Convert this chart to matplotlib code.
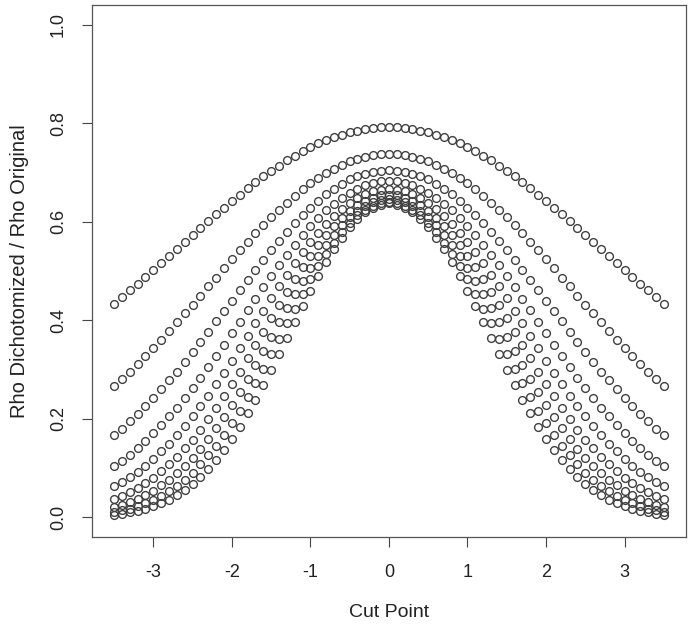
import matplotlib
matplotlib.use("Agg")
import matplotlib.pyplot as plt

plt.rcParams['font.family'] = ['Liberation Sans', 'DejaVu Sans']

# cut points (x) shared by every curve
cut_points = [-3.5, -3.4, -3.3, -3.2, -3.1, -3.0, -2.9, -2.8, -2.7, -2.6,
              -2.5, -2.4, -2.3, -2.2, -2.1, -2.0, -1.9, -1.8, -1.7, -1.6,
              -1.5, -1.4, -1.3, -1.2, -1.1, -1.0, -0.9, -0.8, -0.7, -0.6,
              -0.5, -0.4, -0.3, -0.2, -0.1, 0.0, 0.1, 0.2, 0.3, 0.4,
              0.5, 0.6, 0.7, 0.8, 0.9, 1.0, 1.1, 1.2, 1.3, 1.4,
              1.5, 1.6, 1.7, 1.8, 1.9, 2.0, 2.1, 2.2, 2.3, 2.4,
              2.5, 2.6, 2.7, 2.8, 2.9, 3.0, 3.1, 3.2, 3.3, 3.4, 3.5]

# ratio, one list per original rho (0.1 ... 0.9)
ratio_rho01 = [0.006, 0.008, 0.011, 0.014, 0.018, 0.023, 0.029, 0.036, 0.045, 0.056,
               0.068, 0.082, 0.099, 0.117, 0.137, 0.159, 0.184, 0.211, 0.239, 0.269,
               0.299, 0.331, 0.364, 0.397, 0.429, 0.460, 0.490, 0.518, 0.544, 0.568,
               0.589, 0.606, 0.619, 0.629, 0.635, 0.638, 0.635, 0.629, 0.619, 0.606,
               0.589, 0.568, 0.544, 0.518, 0.490, 0.460, 0.429, 0.397, 0.364, 0.331,
               0.299, 0.269, 0.239, 0.211, 0.184, 0.159, 0.137, 0.117, 0.099, 0.082,
               0.068, 0.056, 0.045, 0.036, 0.029, 0.023, 0.018, 0.014, 0.011, 0.008, 0.006]
ratio_rho02 = [0.012, 0.015, 0.018, 0.023, 0.029, 0.036, 0.044, 0.053, 0.064, 0.077,
               0.091, 0.108, 0.126, 0.146, 0.168, 0.191, 0.217, 0.245, 0.273, 0.302,
               0.332, 0.363, 0.394, 0.424, 0.454, 0.483, 0.510, 0.535, 0.558, 0.579,
               0.598, 0.613, 0.625, 0.633, 0.639, 0.641, 0.639, 0.633, 0.625, 0.613,
               0.598, 0.579, 0.558, 0.535, 0.510, 0.483, 0.454, 0.424, 0.394, 0.363,
               0.332, 0.302, 0.273, 0.245, 0.217, 0.191, 0.168, 0.146, 0.126, 0.108,
               0.091, 0.077, 0.064, 0.053, 0.044, 0.036, 0.029, 0.023, 0.018, 0.015, 0.012]
ratio_rho03 = [0.021, 0.025, 0.031, 0.038, 0.045, 0.054, 0.065, 0.077, 0.090, 0.105,
               0.121, 0.139, 0.159, 0.181, 0.204, 0.228, 0.255, 0.282, 0.310, 0.338,
               0.367, 0.396, 0.425, 0.453, 0.480, 0.506, 0.530, 0.553, 0.574, 0.593,
               0.609, 0.622, 0.632, 0.640, 0.645, 0.647, 0.645, 0.640, 0.632, 0.622,
               0.609, 0.593, 0.574, 0.553, 0.530, 0.506, 0.480, 0.453, 0.425, 0.396,
               0.367, 0.338, 0.310, 0.282, 0.255, 0.228, 0.204, 0.181, 0.159, 0.139,
               0.121, 0.105, 0.090, 0.077, 0.065, 0.054, 0.045, 0.038, 0.031, 0.025, 0.021]
ratio_rho04 = [0.037, 0.044, 0.051, 0.060, 0.070, 0.081, 0.094, 0.108, 0.123, 0.140,
               0.158, 0.178, 0.200, 0.222, 0.246, 0.270, 0.296, 0.323, 0.350, 0.377,
               0.404, 0.431, 0.457, 0.483, 0.508, 0.531, 0.553, 0.573, 0.592, 0.608,
               0.622, 0.634, 0.643, 0.649, 0.654, 0.655, 0.654, 0.649, 0.643, 0.634,
               0.622, 0.608, 0.592, 0.573, 0.553, 0.531, 0.508, 0.483, 0.457, 0.431,
               0.404, 0.377, 0.350, 0.323, 0.296, 0.270, 0.246, 0.222, 0.200, 0.178,
               0.158, 0.140, 0.123, 0.108, 0.094, 0.081, 0.070, 0.060, 0.051, 0.044, 0.037]
ratio_rho05 = [0.063, 0.072, 0.082, 0.093, 0.105, 0.119, 0.134, 0.150, 0.167, 0.185,
               0.205, 0.226, 0.247, 0.270, 0.294, 0.318, 0.343, 0.369, 0.394, 0.419,
               0.445, 0.469, 0.493, 0.516, 0.538, 0.559, 0.578, 0.596, 0.612, 0.626,
               0.639, 0.648, 0.656, 0.662, 0.665, 0.667, 0.665, 0.662, 0.656, 0.648,
               0.639, 0.626, 0.612, 0.596, 0.578, 0.559, 0.538, 0.516, 0.493, 0.469,
               0.445, 0.419, 0.394, 0.369, 0.343, 0.318, 0.294, 0.270, 0.247, 0.226,
               0.205, 0.185, 0.167, 0.150, 0.134, 0.119, 0.105, 0.093, 0.082, 0.072, 0.063]
ratio_rho06 = [0.104, 0.115, 0.127, 0.141, 0.155, 0.171, 0.187, 0.205, 0.223, 0.242,
               0.262, 0.283, 0.305, 0.328, 0.351, 0.374, 0.397, 0.421, 0.444, 0.467,
               0.490, 0.512, 0.533, 0.553, 0.573, 0.591, 0.607, 0.623, 0.636, 0.648,
               0.659, 0.667, 0.674, 0.679, 0.682, 0.683, 0.682, 0.679, 0.674, 0.667,
               0.659, 0.648, 0.636, 0.623, 0.607, 0.591, 0.573, 0.553, 0.533, 0.512,
               0.490, 0.467, 0.444, 0.421, 0.397, 0.374, 0.351, 0.328, 0.305, 0.283,
               0.262, 0.242, 0.223, 0.205, 0.187, 0.171, 0.155, 0.141, 0.127, 0.115, 0.104]
ratio_rho07 = [0.167, 0.180, 0.195, 0.210, 0.226, 0.242, 0.260, 0.278, 0.296, 0.316,
               0.335, 0.356, 0.377, 0.398, 0.419, 0.440, 0.461, 0.482, 0.503, 0.523,
               0.543, 0.562, 0.580, 0.597, 0.614, 0.629, 0.643, 0.656, 0.667, 0.677,
               0.686, 0.693, 0.698, 0.702, 0.704, 0.705, 0.704, 0.702, 0.698, 0.693,
               0.686, 0.677, 0.667, 0.656, 0.643, 0.629, 0.614, 0.597, 0.580, 0.562,
               0.543, 0.523, 0.503, 0.482, 0.461, 0.440, 0.419, 0.398, 0.377, 0.356,
               0.335, 0.316, 0.296, 0.278, 0.260, 0.242, 0.226, 0.210, 0.195, 0.180, 0.167]
ratio_rho08 = [0.266, 0.281, 0.296, 0.311, 0.328, 0.344, 0.361, 0.378, 0.396, 0.414,
               0.432, 0.450, 0.469, 0.487, 0.506, 0.524, 0.542, 0.559, 0.577, 0.593,
               0.609, 0.625, 0.639, 0.653, 0.666, 0.678, 0.689, 0.699, 0.708, 0.716,
               0.723, 0.728, 0.732, 0.735, 0.737, 0.738, 0.737, 0.735, 0.732, 0.728,
               0.723, 0.716, 0.708, 0.699, 0.689, 0.678, 0.666, 0.653, 0.639, 0.625,
               0.609, 0.593, 0.577, 0.559, 0.542, 0.524, 0.506, 0.487, 0.469, 0.450,
               0.432, 0.414, 0.396, 0.378, 0.361, 0.344, 0.328, 0.311, 0.296, 0.281, 0.266]
ratio_rho09 = [0.434, 0.447, 0.461, 0.474, 0.488, 0.502, 0.516, 0.530, 0.545, 0.559,
               0.573, 0.587, 0.601, 0.615, 0.629, 0.642, 0.655, 0.668, 0.680, 0.692,
               0.704, 0.714, 0.725, 0.734, 0.743, 0.751, 0.759, 0.766, 0.772, 0.777,
               0.782, 0.785, 0.788, 0.790, 0.792, 0.792, 0.792, 0.790, 0.788, 0.785,
               0.782, 0.777, 0.772, 0.766, 0.759, 0.751, 0.743, 0.734, 0.725, 0.714,
               0.704, 0.692, 0.680, 0.668, 0.655, 0.642, 0.629, 0.615, 0.601, 0.587,
               0.573, 0.559, 0.545, 0.530, 0.516, 0.502, 0.488, 0.474, 0.461, 0.447, 0.434]

x_ticks = [-3, -2, -1, 0, 1, 2, 3]
y_ticks = [0.0, 0.2, 0.4, 0.6, 0.8, 1.0]
y_tick_labels = ["0.0", "0.2", "0.4", "0.6", "0.8", "1.0"]


fig = plt.figure(figsize=(6.92, 6.29), dpi=100)
ax = fig.add_axes([0.133, 0.146, 0.858, 0.846])

all_curves = [ratio_rho01, ratio_rho02, ratio_rho03, ratio_rho04, ratio_rho05,
              ratio_rho06, ratio_rho07, ratio_rho08, ratio_rho09]
for curve in all_curves:
    ax.plot(cut_points, curve, linestyle='none', marker='o', markersize=5.6,
            markerfacecolor='none', markeredgecolor='#404040', markeredgewidth=1.0)

# R style axes: 4% padding, outward ticks, full box
ax.set_xlim(-3.78, 3.78)
ax.set_ylim(-0.04, 1.04)
ax.set_xticks(x_ticks)
ax.set_xticklabels([str(t) for t in x_ticks])
ax.set_yticks(y_ticks)
ax.set_yticklabels(y_tick_labels, rotation=90, va='center')
ax.tick_params(direction='out', length=7, width=0.8, colors='#444444',
               labelsize=13, labelcolor='#222222')
ax.tick_params(axis='x', pad=12)
ax.tick_params(axis='y', pad=11)
for s in ax.spines.values():
    s.set_color('#555555')
    s.set_linewidth(0.9)

ax.set_xlabel("Cut Point", fontsize=14, color='#222222', labelpad=17)
ax.set_ylabel("Rho Dichotomized / Rho Original", fontsize=14.5, color='#222222', labelpad=15)

fig.savefig("out.png", dpi=100)
plt.close(fig)
